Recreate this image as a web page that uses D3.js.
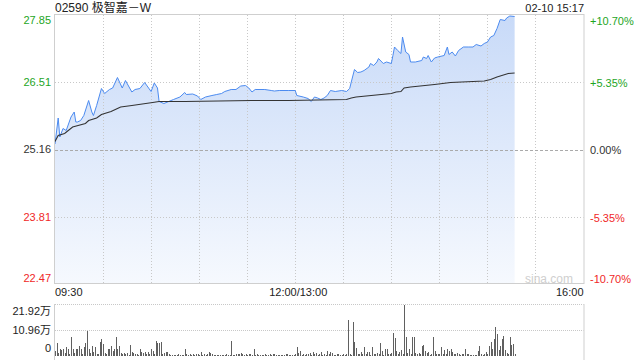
<!DOCTYPE html>
<html>
<head>
<meta charset="utf-8">
<script src="https://cdn.jsdelivr.net/npm/d3@7"></script>
<style>
body { margin: 0; background: #fff; }
svg text { font-family: Arial, "Liberation Sans", "Noto Sans CJK SC", sans-serif; }
</style>
</head>
<body>
<div class="graph"></div>
<script>
// minute index from 09:30 (lunch break skipped, 13:00 = 150)
var priceMin = [0,2,3,5,7,10,12,13,14,16,18,21,23,24,26,29,31,34,36,39,42,44,48,50,53,56,58,60,62,64,65,68,71,74,78,81,82,86,89,91,94,98,101,104,106,110,113,116,119,121,123,125,128,131,135,137,140,146,150,151,155,158,160,162,164,166,168,170,172,175,179,182,184,185,187,189,191,193,196,197,199,201,202,205,207,210,211,212,214,216,217,219,221,222,225,229,230,232,233,235,237,239,243,245,246,248,250,252,255,258,261,263,266,268,270,272,274,276,278,281,282,284,287]
var priceVal = [25.27,25.79,25.41,25.58,25.54,25.81,25.91,25.71,25.71,25.74,25.84,26.14,25.91,25.84,26.04,26.38,26.28,26.36,26.39,26.60,26.39,26.54,26.31,26.36,26.38,26.50,26.41,26.32,26.49,26.39,26.12,26.08,26.12,26.16,26.21,26.30,26.26,26.27,26.23,26.16,26.21,26.24,26.26,26.28,26.32,26.36,26.36,26.43,26.44,26.39,26.31,26.36,26.36,26.36,26.34,26.33,26.34,26.34,26.34,26.24,26.21,26.18,26.12,26.21,26.19,26.16,26.19,26.24,26.34,26.32,26.34,26.32,26.38,26.51,26.76,26.70,26.71,26.74,26.81,26.88,26.84,26.91,26.98,26.88,26.91,26.88,27.04,27.21,27.14,27.08,27.41,27.11,27.06,26.91,26.91,26.94,27.01,26.98,27.04,26.91,26.99,27.01,27.04,27.21,27.06,27.11,27.03,27.14,27.21,27.21,27.21,27.26,27.23,27.28,27.31,27.41,27.44,27.58,27.76,27.74,27.79,27.83,27.82]
var avgMin = [0,2,6,11,19,21,26,29,35,39,41,48,61,65,81,102,123,146,182,185,188,210,213,216,218,222,237,247,268,272,276,283,287]
var avgVal = [25.32,25.44,25.48,25.61,25.68,25.74,25.79,25.86,25.92,25.98,26.01,26.04,26.10,26.12,26.12,26.13,26.14,26.14,26.16,26.19,26.21,26.28,26.31,26.32,26.39,26.41,26.46,26.50,26.53,26.56,26.61,26.68,26.69]
// volume per minute, in 万
var volume = [
  2.0,5.4,1.5,2.8,2.5,2.8,1.3,3.7,3.2,1.0,
  8.0,2.8,1.2,2.8,2.8,4.2,2.8,1.0,3.7,5.4,
  10.7,3.2,1.2,4.2,1.8,3.7,1.0,0.8,6.1,7.2,
  5.0,1.3,0.8,3.2,2.8,4.2,2.2,3.2,8.3,3.2,
  4.2,1.3,0.8,1.3,1.0,1.3,0.6,4.7,1.8,1.3,
  1.0,0.7,0.5,2.8,1.8,1.3,1.8,0.8,1.8,0.9,
  2.8,2.2,1.0,6.6,5.4,5.7,6.1,0.8,1.3,1.8,
  1.8,0.7,0.5,0.4,0.6,0.3,0.5,0.7,0.4,0.5,
  0.6,2.8,0.8,0.5,1.0,0.6,0.9,0.4,0.7,1.0,
  0.5,1.8,0.6,0.9,0.5,0.8,1.8,1.2,0.7,0.5,
  0.4,0.3,0.4,0.5,0.3,0.4,0.6,0.8,0.5,0.6,
  6.6,0.5,0.6,0.9,0.7,1.0,1.2,0.8,0.6,1.0,
  0.5,0.9,0.7,0.6,2.8,0.5,0.7,0.4,0.6,0.3,
  0.5,0.8,0.6,0.4,0.9,0.5,0.7,1.0,0.6,0.5,
  0.4,0.6,0.3,0.5,0.7,0.8,0.5,0.4,0.6,0.5,
  0.8,3.7,1.2,2.2,0.6,0.8,0.5,1.0,0.7,1.3,
  0.6,1.8,0.7,1.3,0.5,0.9,1.8,0.6,0.8,0.5,
  2.2,0.7,1.8,1.3,0.5,0.6,0.8,1.0,0.4,0.6,
  1.0,0.5,0.7,15.4,1.0,0.6,14.5,6.1,3.5,1.0,
  0.8,1.8,1.0,3.9,0.9,1.8,1.8,0.6,3.9,1.0,
  0.7,1.3,0.8,5.7,2.2,0.6,2.8,2.8,0.7,0.9,
  1.3,9.8,7.6,2.2,0.8,1.8,2.5,1.0,21.9,8.3,
  1.3,3.2,0.9,8.0,8.0,1.3,0.9,1.3,0.7,4.2,
  4.7,2.2,1.2,1.8,0.6,0.7,8.0,2.2,0.9,0.7,
  1.0,3.7,1.0,2.5,0.8,3.2,2.2,3.2,1.8,0.9,
  1.0,1.2,1.0,0.6,1.0,0.8,3.2,0.7,1.0,0.4,
  0.3,0.4,0.5,0.6,2.2,4.4,0.7,0.5,0.8,1.8,
  0.8,4.2,6.1,3.2,7.2,12.4,9.5,2.5,4.2,7.2,
  8.6,2.5,1.3,0.8,8.0,4.7,5.1,0.9
]
var priceTicks = [27.85, 26.51, 25.16, 23.81, 22.47]
var pctTicks = ['+10.70%', '+5.35%', '0.00%', '-5.35%', '-10.70%']
var volTicks = [21.92, 10.96, 0]
var timeMin = [0, 150, 330]
var timeLabels = ['09:30', '12:00/13:00', '16:00']
var title = '02590 极智嘉－W'
var stamp = '02-10 15:17'

var w = 640
var h = 360
var plotL = 55, plotR = 583.5, plotT = 15, plotB = 284
var volT = 305, volB = 356
var green = '#1ea51e', red = '#f02828', dark = '#333'
var tickColor = [green, green, dark, red, red]

var x = d3.scaleLinear().domain([0, 330]).range([plotL, plotR])
var y = d3.scaleLinear().domain([22.47, 27.85]).range([plotB, plotT])
var yv = d3.scaleLinear().domain([0, 21.92]).range([volB, volT])

var svg = d3.select('.graph')
  .append('svg')
  .attr('width', w)
  .attr('height', h)

var grad = svg.append('defs').append('linearGradient')
  .attr('id', 'fill')
  .attr('gradientUnits', 'userSpaceOnUse')
  .attr('x1', 0).attr('y1', plotT).attr('x2', 0).attr('y2', plotB)
grad.append('stop').attr('offset', 0).attr('stop-color', '#c8daf8')
grad.append('stop').attr('offset', 1).attr('stop-color', '#f6f9fe')

var price = d3.zip(priceMin, priceVal)
var avg = d3.zip(avgMin, avgVal)

svg.append('path')
  .datum(price)
  .attr('fill', 'url(#fill)')
  .attr('d', d3.area()
    .x(function(d){ return x(d[0]) })
    .y0(plotB)
    .y1(function(d){ return y(d[1]) }))

// grid
var vgrid = d3.range(30, 330, 30)
svg.selectAll('.vg')
  .data(vgrid)
  .enter()
  .append('line')
  .attr('x1', function(d){ return Math.round(x(d)) + 0.5 })
  .attr('x2', function(d){ return Math.round(x(d)) + 0.5 })
  .attr('y1', plotT)
  .attr('y2', plotB)
  .attr('stroke', '#c8c8c8')
  .attr('stroke-dasharray', '1,2')

svg.selectAll('.hg')
  .data([priceTicks[1], priceTicks[3]])
  .enter()
  .append('line')
  .attr('x1', plotL)
  .attr('x2', plotR)
  .attr('y1', function(d){ return Math.round(y(d)) + 0.5 })
  .attr('y2', function(d){ return Math.round(y(d)) + 0.5 })
  .attr('stroke', '#c8c8c8')
  .attr('stroke-dasharray', '1,2')

svg.append('line')
  .attr('x1', plotL).attr('x2', plotR)
  .attr('y1', Math.round(y(priceTicks[2])) + 0.5)
  .attr('y2', Math.round(y(priceTicks[2])) + 0.5)
  .attr('stroke', '#aaa')
  .attr('stroke-dasharray', '3,2')

svg.append('text')
  .text('sina.com')
  .attr('x', 573).attr('y', 283)
  .attr('text-anchor', 'end')
  .attr('font-size', 12)
  .attr('fill', '#cfcfcf')

svg.append('path')
  .datum(price)
  .attr('fill', 'none')
  .attr('stroke', '#4c8bf0')
  .attr('stroke-width', 1)
  .attr('d', d3.line()
    .x(function(d){ return x(d[0]) })
    .y(function(d){ return y(d[1]) }))

svg.append('path')
  .datum(avg)
  .attr('fill', 'none')
  .attr('stroke', '#333')
  .attr('stroke-width', 1.1)
  .attr('d', d3.line()
    .x(function(d){ return x(d[0]) })
    .y(function(d){ return y(d[1]) }))

svg.append('rect')
  .attr('x', plotL - 0.5).attr('y', plotT - 0.5)
  .attr('width', plotR - plotL + 1).attr('height', plotB - plotT)
  .attr('fill', 'none')
  .attr('stroke', '#cfcfcf')

// labels
var offs = [5, 0, 0, 0, -6]
svg.selectAll('.lt')
  .data(priceTicks)
  .enter()
  .append('text')
  .text(function(d){ return d.toFixed(2) })
  .attr('x', 51)
  .attr('y', function(d, i){ return y(d) + offs[i] })
  .attr('dy', '0.35em')
  .attr('text-anchor', 'end')
  .attr('font-size', 11)
  .attr('fill', function(d, i){ return tickColor[i] })

svg.selectAll('.rt')
  .data(pctTicks)
  .enter()
  .append('text')
  .text(function(d){ return d })
  .attr('x', 590)
  .attr('y', function(d, i){ return y(priceTicks[i]) + offs[i] + 1 })
  .attr('dy', '0.35em')
  .attr('font-size', 11)
  .attr('fill', function(d, i){ return tickColor[i] })

var anchors = ['start', 'middle', 'end']
svg.selectAll('.tt')
  .data(timeLabels)
  .enter()
  .append('text')
  .text(function(d){ return d })
  .attr('x', function(d, i){ return i == 1 ? x(timeMin[i]) + 3 : x(timeMin[i]) })
  .attr('y', 296)
  .attr('text-anchor', function(d, i){ return anchors[i] })
  .attr('font-size', 11)
  .attr('fill', '#222')

svg.append('text')
  .text(title)
  .attr('x', 55).attr('y', 12)
  .attr('font-size', 12)
  .attr('fill', '#222')

svg.append('text')
  .text(stamp)
  .attr('x', 584).attr('y', 12)
  .attr('text-anchor', 'end')
  .attr('font-size', 11)
  .attr('fill', '#222')

// volume panel
svg.selectAll('.vgl')
  .data([volTicks[0], volTicks[1]])
  .enter()
  .append('line')
  .attr('x1', plotL).attr('x2', plotR)
  .attr('y1', function(d){ return Math.round(yv(d)) - 0.5 })
  .attr('y2', function(d){ return Math.round(yv(d)) - 0.5 })
  .attr('stroke', '#c8c8c8')
  .attr('stroke-dasharray', '1,1')

svg.append('line')
  .attr('x1', plotL - 0.5).attr('x2', plotL - 0.5)
  .attr('y1', volT - 1).attr('y2', h)
  .attr('stroke', '#cfcfcf')
svg.append('line')
  .attr('x1', plotR + 0.5).attr('x2', plotR + 0.5)
  .attr('y1', volT - 1).attr('y2', h)
  .attr('stroke', '#cfcfcf')

svg.selectAll('.vol')
  .data(volume)
  .enter()
  .append('rect')
  .attr('x', function(d, i){ return Math.round(x(i)) })
  .attr('y', function(d){ return yv(d) })
  .attr('width', 1)
  .attr('height', function(d){ return volB - yv(d) })
  .attr('fill', '#606060')
  .attr('shape-rendering', 'crispEdges')

var voffs = [6, 0, -8]
svg.selectAll('.vt')
  .data(volTicks)
  .enter()
  .append('text')
  .text(function(d){ return d == 0 ? '0' : d.toFixed(2) + '万' })
  .attr('x', 51)
  .attr('y', function(d, i){ return yv(d) + voffs[i] })
  .attr('dy', '0.35em')
  .attr('text-anchor', 'end')
  .attr('font-size', 11)
  .attr('fill', '#222')
</script>
</body>
</html>
